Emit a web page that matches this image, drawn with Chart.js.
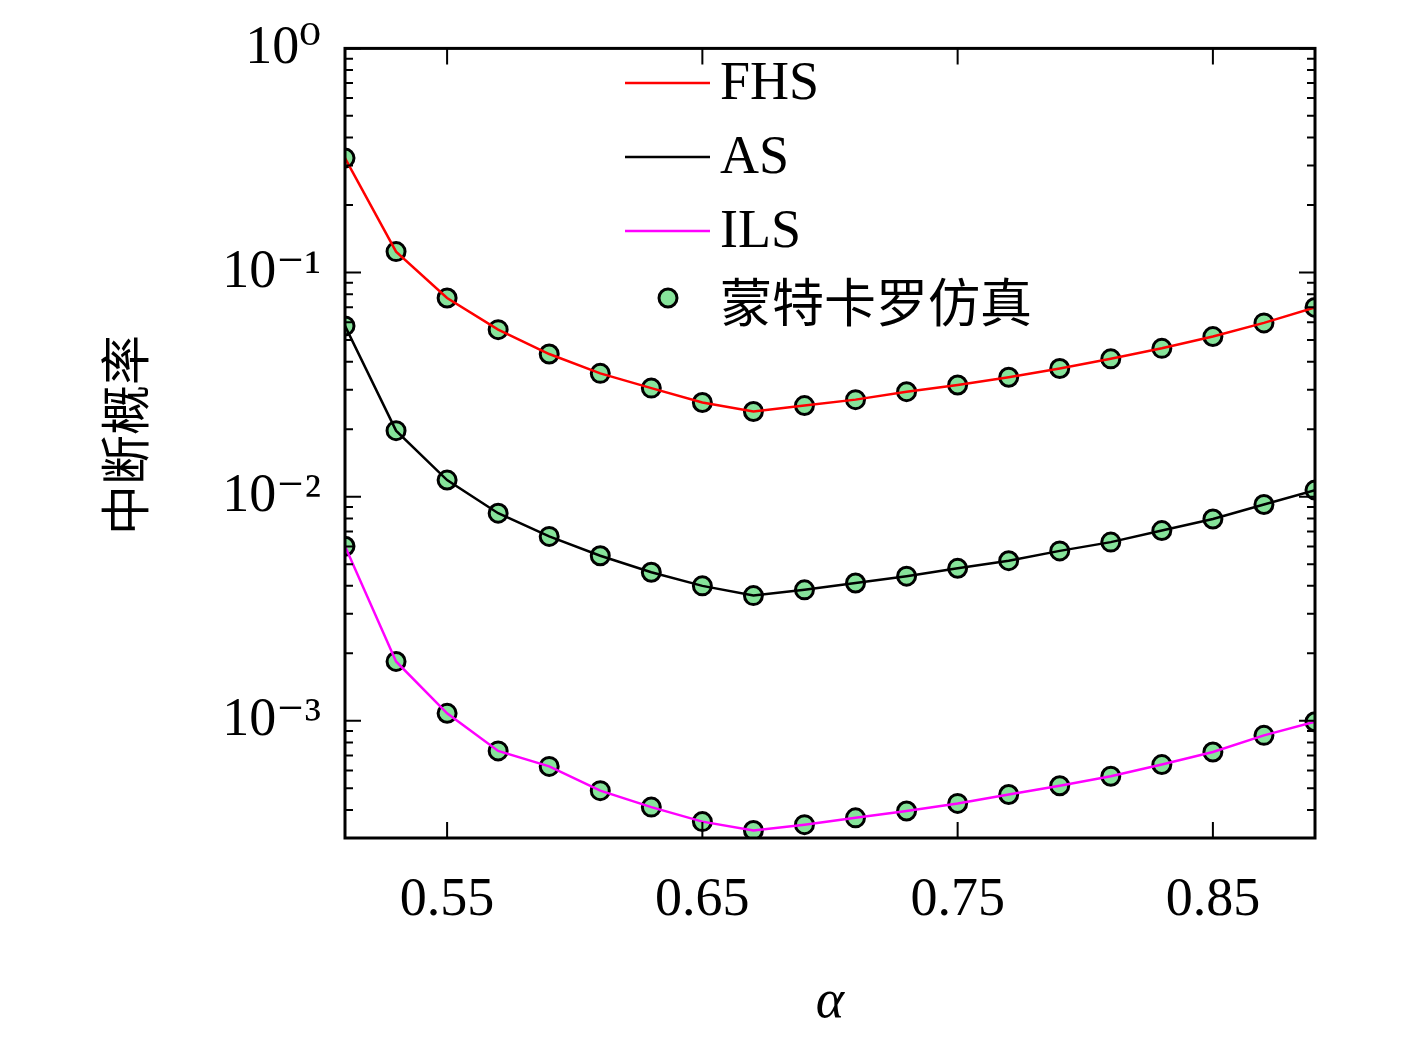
<!DOCTYPE html>
<html><head><meta charset="utf-8">
<script src="https://cdn.jsdelivr.net/npm/chart.js@4"></script>
<style>html,body{margin:0;background:#fff}#w{width:1417px;height:1039px}</style>
</head><body><div id="w"><canvas id="c"></canvas></div>
<script>
const alphaVals=[0.51,0.53,0.55,0.57,0.59,0.61,0.63,0.65,0.67,0.69,0.71,0.73,0.75,0.77,0.79,0.81,0.83,0.85,0.87,0.89];
const fhs=[0.324,0.124,0.077,0.0556,0.0433,0.0355,0.0305,0.0263,0.0240,0.0255,0.0271,0.0294,0.0315,0.0341,0.0373,0.0412,0.0459,0.0518,0.0596,0.0699];
const as=[0.0578,0.0197,0.01186,0.00844,0.00665,0.00545,0.0046,0.0040,0.00362,0.00384,0.00412,0.00442,0.00479,0.00518,0.00573,0.00627,0.00706,0.00795,0.00923,0.0107];
const ils=[0.00601,0.00184,0.00108,0.000734,0.000626,0.000488,0.000412,0.000355,0.000324,0.000344,0.000369,0.000396,0.000428,0.000469,0.000513,0.000566,0.000638,0.000726,0.000861,0.00099];
const xTicks=[0.55,0.65,0.75,0.85];
const yTicks=[1,0.1,0.01,0.001];
const yLabels=['10⁰','10⁻¹','10⁻²','10⁻³'];
const legendNames=['FHS','AS','ILS','蒙特卡罗仿真'];
const yTitle='中断概率';
const colors=['#ff0000','#000000','#ff00ff'];
const mk='#86e39a';
const pts=a=>a.map((v,i)=>({x:alphaVals[i],y:v}));
const lineDs=(d,c)=>({data:pts(d),showLine:true,borderColor:c,borderWidth:2.5,pointRadius:0,fill:false});
const mkDs=d=>({data:pts(d),showLine:false,pointRadius:9,pointBackgroundColor:mk,pointBorderColor:'#000',pointBorderWidth:3});
const SER='"Liberation Serif","DejaVu Serif",serif';
const deco={id:'deco',afterDraw(ch){
 const g=ch.ctx,a=ch.chartArea,xs=ch.scales.x,ys=ch.scales.y;
 g.save();g.strokeStyle='#000';g.lineWidth=3;
 g.strokeRect(a.left,a.top,a.right-a.left,a.bottom-a.top);
 g.lineWidth=2;
 for(let e=-4;e<=0;e++)for(let m=1;m<10;m++){const v=m*Math.pow(10,e);if(v<ys.min||v>ys.max)continue;
  const p=ys.getPixelForValue(v),L=m==1?16:8;
  g.beginPath();g.moveTo(a.left,p);g.lineTo(a.left+L,p);g.moveTo(a.right,p);g.lineTo(a.right-L,p);g.stroke();}
 for(const t of xTicks){const p=xs.getPixelForValue(t);g.beginPath();g.moveTo(p,a.bottom);g.lineTo(p,a.bottom-16);g.moveTo(p,a.top);g.lineTo(p,a.top+16);g.stroke();}
 const ly=[83,157,231];
 g.lineWidth=2.5;
 for(let i=0;i<3;i++){g.strokeStyle=colors[i];g.beginPath();g.moveTo(625,ly[i]);g.lineTo(710,ly[i]);g.stroke();
  g.fillStyle='#000';g.font='54px '+SER;g.textBaseline='middle';g.fillText(legendNames[i],720,ly[i]+2);}
 g.beginPath();g.arc(668,298,9,0,Math.PI*2);g.fillStyle=mk;g.fill();g.lineWidth=3;g.strokeStyle='#000';g.stroke();
 g.fillStyle='#000';g.font='52px "Noto Sans CJK SC"';g.fillText(legendNames[3],720,302);
 g.translate(125,435);g.rotate(-Math.PI/2);g.textAlign='center';g.font='50px "Noto Sans CJK SC"';g.fillText(yTitle,0,0);
 g.restore();}};
new Chart(document.getElementById('c'),{type:'scatter',
 data:{datasets:[lineDs(fhs,colors[0]),lineDs(as,colors[1]),lineDs(ils,colors[2]),mkDs(fhs),mkDs(as),mkDs(ils)]},
 options:{responsive:true,maintainAspectRatio:false,animation:false,events:[],
  layout:{padding:{top:20,right:102,left:0,bottom:0}},
  plugins:{legend:{display:false},tooltip:{enabled:false}},
  scales:{
   x:{type:'linear',min:0.51,max:0.89,grid:{display:false},border:{display:false},
    afterBuildTicks:s=>{s.ticks=xTicks.map(v=>({value:v}));},
    afterFit:s=>{s.height=201;},
    ticks:{color:'#000',font:{size:54,family:SER},padding:22,maxRotation:0,callback:v=>v.toFixed(2)},
    title:{display:true,text:'α',color:'#000',font:{size:54,family:SER,style:'italic'},padding:{top:48}}},
   y:{type:'logarithmic',min:0.00032,max:1,grid:{display:false},border:{display:false},
    afterBuildTicks:s=>{s.ticks=yTicks.map(v=>({value:v}));},
    afterFit:s=>{s.width=345;},
    ticks:{color:'#000',font:{size:54,family:SER},padding:16,callback:v=>{const i=yTicks.findIndex(t=>Math.abs(t-v)/t<1e-6);return i>=0?yLabels[i]:'';}}}}},
 plugins:[deco]});
</script></body></html>
